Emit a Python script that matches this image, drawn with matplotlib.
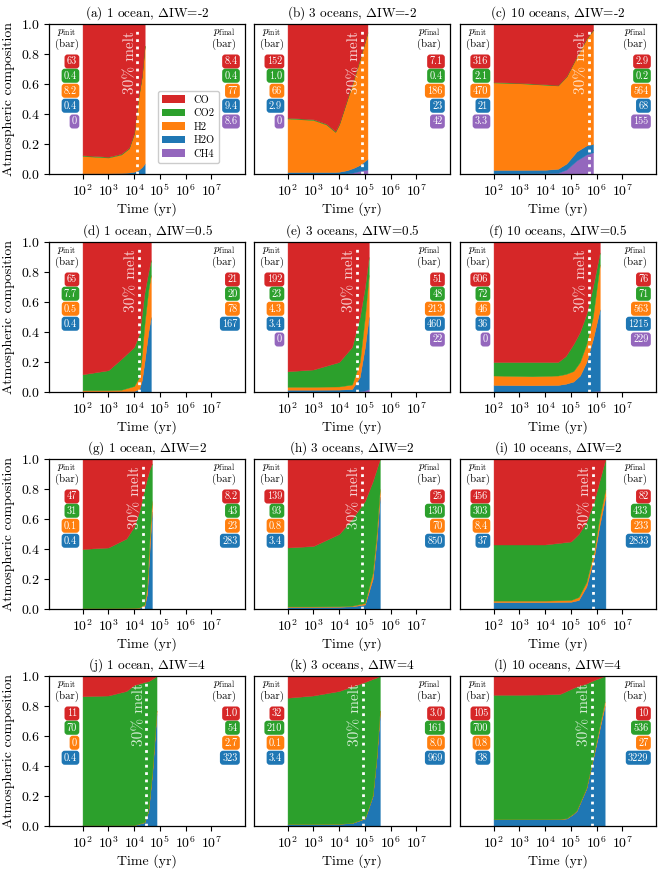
import numpy as np
import matplotlib
matplotlib.use("Agg")
import matplotlib.pyplot as plt
from matplotlib.patches import Patch

plt.rcParams.update({
    "font.family": "serif",
    "font.serif": ["cmr10", "DejaVu Serif"],
    "mathtext.fontset": "cm",
    "axes.formatter.use_mathtext": True,
    "axes.unicode_minus": False,
})

species = ["CO", "CO2", "H2", "H2O", "CH4"]
colors = {"CO": "#d62728", "CO2": "#2ca02c", "H2": "#ff7f0e", "H2O": "#1f77b4", "CH4": "#9467bd"}

titles = ["(a) 1 ocean, $\\Delta$IW=-2", "(b) 3 oceans, $\\Delta$IW=-2", "(c) 10 oceans, $\\Delta$IW=-2",
          "(d) 1 ocean, $\\Delta$IW=0.5", "(e) 3 oceans, $\\Delta$IW=0.5", "(f) 10 oceans, $\\Delta$IW=0.5",
          "(g) 1 ocean, $\\Delta$IW=2", "(h) 3 oceans, $\\Delta$IW=2", "(i) 10 oceans, $\\Delta$IW=2",
          "(j) 1 ocean, $\\Delta$IW=4", "(k) 3 oceans, $\\Delta$IW=4", "(l) 10 oceans, $\\Delta$IW=4"]

# log10(time in yr) of the 30% melt line
melt_logt = [4.13, 4.89, 5.69, 4.19, 4.69, 5.70, 4.34, 4.89, 5.85, 4.48, 4.93, 5.82]

# initial / final partial pressures (bar), order CO, CO2, H2, H2O, CH4
pinit_a = ["63", "0.4", "8.2", "0.4", "0"];      pfinal_a = ["8.4", "0.4", "77", "9.4", "8.6"]
pinit_b = ["152", "1.0", "66", "2.9", "0"];     pfinal_b = ["7.1", "0.4", "186", "23", "42"]
pinit_c = ["316", "2.1", "470", "21", "3.3"];   pfinal_c = ["2.9", "0.2", "564", "68", "155"]
pinit_d = ["65", "7.7", "0.5", "0.4"];          pfinal_d = ["21", "20", "78", "167"]
pinit_e = ["192", "23", "4.3", "3.4", "0"];     pfinal_e = ["51", "48", "213", "460", "22"]
pinit_f = ["606", "72", "46", "36", "0"];       pfinal_f = ["76", "71", "563", "1215", "229"]
pinit_g = ["47", "31", "0.1", "0.4"];           pfinal_g = ["8.2", "43", "23", "283"]
pinit_h = ["139", "93", "0.8", "3.4"];          pfinal_h = ["25", "130", "70", "850"]
pinit_i = ["456", "303", "8.4", "37"];          pfinal_i = ["82", "433", "233", "2833"]
pinit_j = ["11", "70", "0", "0.4"];             pfinal_j = ["1.0", "54", "2.7", "323"]
pinit_k = ["32", "210", "0.1", "3.4"];          pfinal_k = ["3.0", "161", "8.0", "969"]
pinit_l = ["105", "700", "0.8", "38"];          pfinal_l = ["10", "536", "27", "3229"]

# time series: log10(t/yr) and mole fractions of each species
lt_a = [2, 3, 3.5, 3.8, 4.0, 4.15, 4.3, 4.41]
ch4_a = [0, 0, 0, 0, 0, 0, 0, 0]
h2o_a = [0.005, 0.005, 0.007, 0.01, 0.015, 0.025, 0.045, 0.07]
h2_a = [0.115, 0.105, 0.123, 0.16, 0.255, 0.465, 0.605, 0.78]
co2_a = [0.005, 0.005, 0.005, 0.005, 0.005, 0.005, 0.005, 0.005]
co_a = [0.875, 0.885, 0.865, 0.825, 0.725, 0.505, 0.345, 0.145]

lt_b = [2, 3, 3.5, 3.85, 4.0, 4.3, 4.55, 4.8, 5.1]
ch4_b = [0, 0, 0, 0, 0, 0.003, 0.01, 0.02, 0.03]
h2o_b = [0.013, 0.013, 0.013, 0.013, 0.015, 0.022, 0.03, 0.04, 0.07]
h2_b = [0.357, 0.347, 0.317, 0.267, 0.315, 0.465, 0.58, 0.70, 0.84]
co2_b = [0.005, 0.005, 0.005, 0.005, 0.005, 0.005, 0.005, 0.005, 0.005]
co_b = [0.625, 0.635, 0.665, 0.715, 0.665, 0.505, 0.375, 0.235, 0.055]

lt_c = [2, 3, 4, 4.5, 4.83, 5.22, 5.6, 5.86]
ch4_c = [0.004, 0.004, 0.005, 0.008, 0.03, 0.09, 0.13, 0.145]
h2o_c = [0.023, 0.023, 0.023, 0.027, 0.04, 0.06, 0.06, 0.055]
h2_c = [0.583, 0.578, 0.567, 0.555, 0.58, 0.63, 0.71, 0.76]
co2_c = [0.003, 0.003, 0.003, 0.003, 0.003, 0.003, 0.003, 0.003]
co_c = [0.387, 0.392, 0.402, 0.407, 0.347, 0.217, 0.097, 0.037]

lt_d = [2, 3, 3.5, 4.0, 4.2, 4.3, 4.4, 4.55, 4.65]
ch4_d = [0, 0, 0, 0, 0, 0, 0, 0, 0]
h2o_d = [0.005, 0.005, 0.005, 0.007, 0.02, 0.08, 0.2, 0.4, 0.5]
h2_d = [0.007, 0.007, 0.01, 0.033, 0.08, 0.17, 0.25, 0.28, 0.28]
co2_d = [0.106, 0.133, 0.205, 0.26, 0.29, 0.27, 0.21, 0.12, 0.10]
co_d = [0.882, 0.855, 0.78, 0.70, 0.61, 0.48, 0.34, 0.2, 0.12]

lt_e = [2, 3, 4, 4.5, 4.8, 5.0, 5.15]
ch4_e = [0, 0, 0, 0, 0.005, 0.01, 0.02]
h2o_e = [0.015, 0.015, 0.016, 0.02, 0.095, 0.29, 0.48]
h2_e = [0.02, 0.02, 0.021, 0.03, 0.1, 0.2, 0.28]
co2_e = [0.103, 0.115, 0.163, 0.25, 0.3, 0.2, 0.12]
co_e = [0.862, 0.85, 0.8, 0.7, 0.5, 0.3, 0.1]

lt_f = [2, 3.5, 4.5, 4.8, 5.1, 5.35, 5.6, 5.85, 6.12]
ch4_f = [0, 0, 0, 0, 0, 0, 0, 0.005, 0.01]
h2o_f = [0.047, 0.045, 0.047, 0.055, 0.07, 0.11, 0.2, 0.345, 0.54]
h2_f = [0.063, 0.06, 0.063, 0.065, 0.07, 0.09, 0.12, 0.15, 0.30]
co2_f = [0.09, 0.095, 0.09, 0.12, 0.18, 0.2, 0.2, 0.2, 0.08]
co_f = [0.8, 0.8, 0.8, 0.76, 0.68, 0.6, 0.48, 0.3, 0.07]

lt_g = [2, 3, 3.7, 4.0, 4.2, 4.4, 4.5, 4.6, 4.69]
ch4_g = [0, 0, 0, 0, 0, 0, 0, 0, 0]
h2o_g = [0.005, 0.005, 0.005, 0.006, 0.008, 0.02, 0.1, 0.4, 0.65]
h2_g = [0.001, 0.001, 0.002, 0.002, 0.002, 0.01, 0.05, 0.08, 0.07]
co2_g = [0.394, 0.404, 0.463, 0.542, 0.64, 0.77, 0.72, 0.45, 0.25]
co_g = [0.6, 0.59, 0.53, 0.45, 0.35, 0.2, 0.13, 0.07, 0.03]

lt_h = [2, 3, 4, 4.5, 5.0, 5.3, 5.45, 5.58]
ch4_h = [0, 0, 0, 0, 0, 0, 0, 0]
h2o_h = [0.014, 0.014, 0.015, 0.018, 0.03, 0.2, 0.45, 0.75]
h2_h = [0.003, 0.003, 0.003, 0.004, 0.01, 0.04, 0.05, 0.05]
co2_h = [0.393, 0.403, 0.482, 0.578, 0.68, 0.61, 0.43, 0.2]
co_h = [0.59, 0.58, 0.5, 0.4, 0.28, 0.15, 0.07, 0.0]

lt_i = [2, 3, 4, 5, 5.3, 5.6, 5.9, 6.1, 6.34]
ch4_i = [0, 0, 0, 0, 0, 0, 0, 0, 0]
h2o_i = [0.046, 0.046, 0.046, 0.048, 0.06, 0.15, 0.35, 0.55, 0.75]
h2_i = [0.01, 0.01, 0.01, 0.012, 0.02, 0.03, 0.04, 0.05, 0.05]
co2_i = [0.374, 0.374, 0.374, 0.39, 0.42, 0.40, 0.33, 0.25, 0.2]
co_i = [0.57, 0.57, 0.57, 0.55, 0.5, 0.42, 0.28, 0.15, 0.0]

lt_j = [2, 3, 3.7, 4.0, 4.4, 4.55, 4.7, 4.87]
ch4_j = [0, 0, 0, 0, 0, 0, 0, 0]
h2o_j = [0.005, 0.005, 0.005, 0.006, 0.025, 0.1, 0.35, 0.75]
h2_j = [0, 0, 0, 0, 0.002, 0.005, 0.01, 0.02]
co2_j = [0.86, 0.865, 0.895, 0.934, 0.933, 0.86, 0.62, 0.23]
co_j = [0.135, 0.13, 0.1, 0.06, 0.04, 0.035, 0.02, 0.0]

lt_k = [2, 3, 4, 4.5, 5.0, 5.3, 5.45, 5.58]
ch4_k = [0, 0, 0, 0, 0, 0, 0, 0]
h2o_k = [0.014, 0.014, 0.015, 0.02, 0.05, 0.2, 0.45, 0.75]
h2_k = [0, 0, 0, 0.001, 0.003, 0.005, 0.01, 0.02]
co2_k = [0.841, 0.856, 0.885, 0.909, 0.907, 0.775, 0.53, 0.23]
co_k = [0.145, 0.13, 0.1, 0.07, 0.04, 0.02, 0.01, 0.0]

lt_l = [2, 3, 4, 4.57, 4.83, 5.09, 5.22, 5.6, 5.86, 6.31]
ch4_l = [0, 0, 0, 0, 0, 0, 0, 0, 0, 0]
h2o_l = [0.045, 0.045, 0.045, 0.046, 0.05, 0.08, 0.1, 0.25, 0.45, 0.8]
h2_l = [0.001, 0.001, 0.001, 0.001, 0.002, 0.003, 0.004, 0.006, 0.01, 0.03]
co2_l = [0.829, 0.829, 0.831, 0.833, 0.848, 0.837, 0.826, 0.694, 0.51, 0.17]
co_l = [0.125, 0.125, 0.123, 0.12, 0.1, 0.08, 0.07, 0.05, 0.03, 0.0]

series = [
    (lt_a, ch4_a, h2o_a, h2_a, co2_a, co_a, pinit_a, pfinal_a),
    (lt_b, ch4_b, h2o_b, h2_b, co2_b, co_b, pinit_b, pfinal_b),
    (lt_c, ch4_c, h2o_c, h2_c, co2_c, co_c, pinit_c, pfinal_c),
    (lt_d, ch4_d, h2o_d, h2_d, co2_d, co_d, pinit_d, pfinal_d),
    (lt_e, ch4_e, h2o_e, h2_e, co2_e, co_e, pinit_e, pfinal_e),
    (lt_f, ch4_f, h2o_f, h2_f, co2_f, co_f, pinit_f, pfinal_f),
    (lt_g, ch4_g, h2o_g, h2_g, co2_g, co_g, pinit_g, pfinal_g),
    (lt_h, ch4_h, h2o_h, h2_h, co2_h, co_h, pinit_h, pfinal_h),
    (lt_i, ch4_i, h2o_i, h2_i, co2_i, co_i, pinit_i, pfinal_i),
    (lt_j, ch4_j, h2o_j, h2_j, co2_j, co_j, pinit_j, pfinal_j),
    (lt_k, ch4_k, h2o_k, h2_k, co2_k, co_k, pinit_k, pfinal_k),
    (lt_l, ch4_l, h2o_l, h2_l, co2_l, co_l, pinit_l, pfinal_l),
]

W, H = 662, 872
fig = plt.figure(figsize=(W / 100, H / 100), dpi=100)
col_left = [49, 254, 460]
ax_w = 196
row_top = [24, 242, 459, 676]
ax_h = 150

stack_order = ["CH4", "H2O", "H2", "CO2", "CO"]
box_y = [0.75, 0.655, 0.555, 0.455, 0.35]

for idx, (lt, ch4, h2o, h2, co2, co, pin, pfi) in enumerate(series):
    r, c = divmod(idx, 3)
    ax = fig.add_axes([col_left[c] / W, 1 - (row_top[r] + ax_h) / H, ax_w / W, ax_h / H])
    t = 10 ** np.array(lt, dtype=float)
    ax.stackplot(t, ch4, h2o, h2, co2, co,
                 colors=[colors[s] for s in stack_order], linewidth=0.3,
                 edgecolor="face")
    ax.set_xscale("log")
    ax.set_xlim(5, 2e8)
    ax.set_ylim(0, 1)
    ax.set_xticks([1e2, 1e3, 1e4, 1e5, 1e6, 1e7])
    ax.xaxis.set_minor_locator(matplotlib.ticker.NullLocator())
    ax.tick_params(labelsize=10, length=3.5, width=0.8, pad=3)
    for sp in ax.spines.values():
        sp.set_linewidth(0.9)
    if c == 0:
        ax.set_yticks([0, 0.2, 0.4, 0.6, 0.8, 1.0])
        ax.set_ylabel("Atmospheric composition", fontsize=10, labelpad=4)
    else:
        ax.set_yticks([])
    ax.set_xlabel("Time (yr)", fontsize=10, labelpad=2)
    ax.set_title(titles[idx], fontsize=9.5, pad=5)

    tm = 10 ** melt_logt[idx]
    ax.plot([tm, tm], [0, 0.953], color="white", ls=":", lw=2, dash_capstyle="butt")
    ax.text(tm / 1.035, 0.95, "30% melt", rotation=90, ha="right", va="top",
            color="white", alpha=0.8, fontsize=11)

    ax.text(0.09, 0.905, "$p_\\mathrm{init}$\n(bar)", transform=ax.transAxes,
            ha="center", va="center", fontsize=7.8, linespacing=1.05)
    ax.text(0.895, 0.905, "$p_\\mathrm{final}$\n(bar)", transform=ax.transAxes,
            ha="center", va="center", fontsize=7.8, linespacing=1.05)
    for k, (vi, vf) in enumerate(zip(pin, pfi)):
        col = colors[species[k]]
        for xx, val in ((0.143, vi), (0.962, vf)):
            ax.text(xx, box_y[k], val, transform=ax.transAxes, ha="right", va="center",
                    fontsize=7.4, color="white",
                    bbox=dict(boxstyle="round,pad=0.22,rounding_size=0.3", fc=col, ec="none"))

    if idx == 0:
        handles = [Patch(facecolor=colors[s], label=s) for s in species]
        ax.legend(handles=handles, loc="lower left", bbox_to_anchor=(0.53, 0.04),
                  fontsize=7.5, handlelength=2.2, handleheight=0.7, borderpad=0.4,
                  labelspacing=0.38, handletextpad=0.8, framealpha=1, edgecolor="#cccccc")

fig.savefig("out.png", dpi=100)
